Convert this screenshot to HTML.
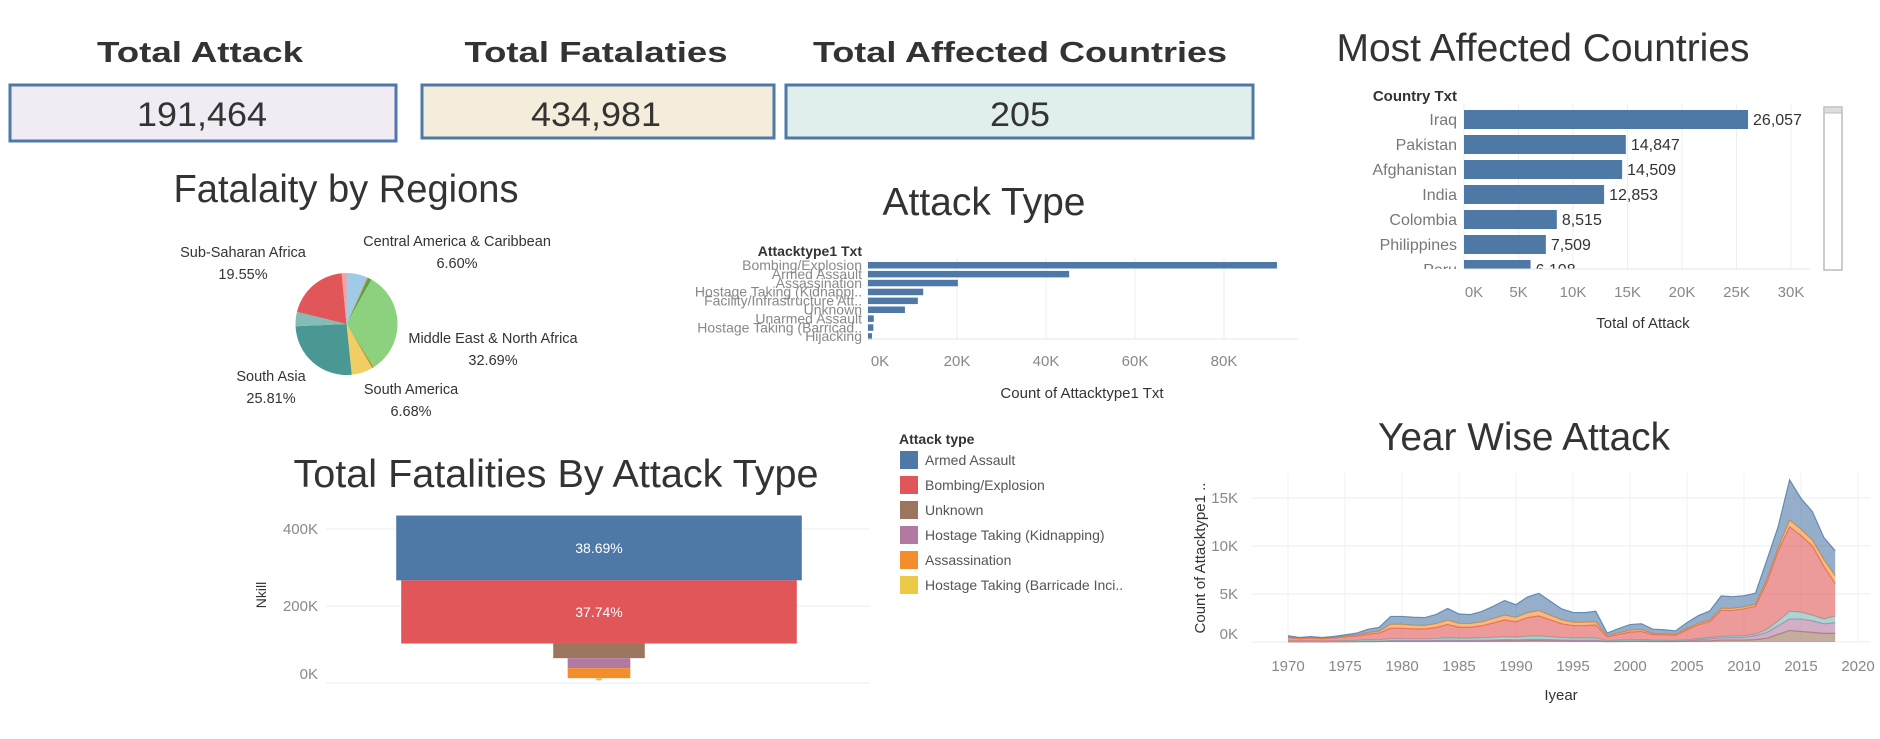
<!DOCTYPE html>
<html><head><meta charset="utf-8">
<style>
html,body{margin:0;padding:0;background:#fff;}
svg{display:block;font-family:"Liberation Sans",sans-serif;}
</style></head>
<body>
<svg id="root" width="1880" height="739" viewBox="0 0 1880 739" xmlns="http://www.w3.org/2000/svg">
  <!-- KPI cards -->
  <g>
    <text x="200" y="62" text-anchor="middle" font-size="29" font-weight="bold" fill="#333" textLength="206" lengthAdjust="spacingAndGlyphs">Total Attack</text>
    <rect x="10" y="85" width="386" height="56" fill="#f1ebf3" stroke="#4e79a7" stroke-width="3"/>
    <text x="202" y="126" text-anchor="middle" font-size="34" fill="#333" textLength="130" lengthAdjust="spacingAndGlyphs">191,464</text>
  </g>
  <g>
    <text x="596" y="62" text-anchor="middle" font-size="29" font-weight="bold" fill="#333" textLength="263" lengthAdjust="spacingAndGlyphs">Total Fatalaties</text>
    <rect x="422" y="85" width="352" height="53" fill="#f5eddc" stroke="#4e79a7" stroke-width="3"/>
    <text x="596" y="126" text-anchor="middle" font-size="34" fill="#333" textLength="130" lengthAdjust="spacingAndGlyphs">434,981</text>
  </g>
  <g>
    <text x="1020" y="62" text-anchor="middle" font-size="29" font-weight="bold" fill="#333" textLength="414" lengthAdjust="spacingAndGlyphs">Total Affected Countries</text>
    <rect x="786" y="85" width="467" height="53" fill="#e0efeb" stroke="#4e79a7" stroke-width="3"/>
    <text x="1020" y="126" text-anchor="middle" font-size="34" fill="#333" textLength="60" lengthAdjust="spacingAndGlyphs">205</text>
  </g>

  <!-- titles -->
  <text x="1543" y="61" text-anchor="middle" font-size="39" fill="#333" textLength="413" lengthAdjust="spacingAndGlyphs">Most Affected Countries</text>
  <text x="346" y="202" text-anchor="middle" font-size="39" fill="#333" textLength="345" lengthAdjust="spacingAndGlyphs">Fatalaity by Regions</text>
  <text x="984" y="215" text-anchor="middle" font-size="39" fill="#333" textLength="203" lengthAdjust="spacingAndGlyphs">Attack Type</text>
  <text x="556" y="487" text-anchor="middle" font-size="39" fill="#333" textLength="525" lengthAdjust="spacingAndGlyphs">Total Fatalities By Attack Type</text>
  <text x="1524" y="450" text-anchor="middle" font-size="39" fill="#333" textLength="292" lengthAdjust="spacingAndGlyphs">Year Wise Attack</text>

  <g id="countries"></g>
  <g id="pie"></g>
  <g id="atype"></g>
  <g id="funnel"></g>
  <g id="legend"></g>
  <g id="years"></g>
</svg>
<script>
const NS="http://www.w3.org/2000/svg";
function mk(parent,tag,attrs,text){const e=document.createElementNS(NS,tag);for(const k in attrs)e.setAttribute(k,attrs[k]);if(text!==undefined)e.textContent=text;parent.appendChild(e);return e;}

// ---------- Most affected countries ----------
const countryNames=["Iraq","Pakistan","Afghanistan","India","Colombia","Philippines","Peru"];
const countryValues=[26057,14847,14509,12853,8515,7509,6108];
const countryTicks=[0,5000,10000,15000,20000,25000,30000];
const countryTickLabels=["0K","5K","10K","15K","20K","25K","30K"];
(function(){
  const g=document.getElementById('countries');
  const x=v=>1464+v*54.5/5000;
  const y=i=>110+i*25;
  const clip=mk(g,'clipPath',{id:'cclip'});mk(clip,'rect',{x:1300,y:104,width:520,height:165});
  countryTicks.forEach((t,i)=>{
    const l=mk(g,'line',{x1:x(t),x2:x(t),y1:104,y2:269,stroke:'#eee','stroke-width':1});
    
    const tl=mk(g,'text',{x:x(t)+(i==0?10:0),y:297,'text-anchor':'middle','font-size':15,fill:'#888'},countryTickLabels[i]);
    
  });
  const cg=mk(g,'g',{'clip-path':'url(#cclip)'});
  countryNames.forEach((n,i)=>{
    const b=mk(cg,'rect',{x:x(0),y:y(i),width:x(countryValues[i])-x(0),height:19,fill:'#4e79a7'});
    
    const vl=mk(cg,'text',{x:x(countryValues[i])+5,y:y(i)+15,'font-size':16,fill:'#333'},countryValues[i].toLocaleString('en-US'));
    
    const nl=mk(cg,'text',{x:1457,y:y(i)+15,'text-anchor':'end','font-size':16,fill:'#777'},n);
    
  });
  const ax=mk(g,'line',{x1:1464,x2:1810,y1:269,y2:269,stroke:'#e6e6e6'});
  
  const hd=mk(g,'text',{x:1457,y:101,'text-anchor':'end','font-size':15,'font-weight':'bold',fill:'#333'},'Country Txt');
  
  const xt=mk(g,'text',{x:1643,y:328,'text-anchor':'middle','font-size':15,fill:'#333'},'Total of Attack');
  
  const sb=mk(g,'rect',{x:1824,y:107,width:18,height:163,fill:'#fff',stroke:'#bbb','stroke-width':1.5});
  
  const sbt=mk(g,'rect',{x:1824,y:107,width:18,height:6,fill:'#ddd',stroke:'#bbb'});
  
})();

// ---------- Pie ----------
const regionNames=["Central America & Caribbean","Australasia & Oceania","Eastern Europe","Middle East & North Africa","North America","South America","South Asia","Southeast Asia","Sub-Saharan Africa","Western Europe"];
const regionPct=[6.60,0.3,1.2,32.69,0.6,6.68,25.81,4.5,19.55,1.5];
const regionColors=["#a0cbe8","#f28e2b","#59a14f","#8cd17d","#b6992d","#f1ce63","#499894","#86bcb6","#e15759","#ff9d9a"];
(function(){
  const g=document.getElementById('pie');
  const cx=346.5,cy=324,r=51;
  const tot=regionPct.reduce((a,b)=>a+b,0);
  let a0=0;
  regionPct.forEach((p,i)=>{
    const a1=a0+p/tot*Math.PI*2;
    const x0=cx+r*Math.sin(a0),y0=cy-r*Math.cos(a0),x1=cx+r*Math.sin(a1),y1=cy-r*Math.cos(a1);
    const large=(a1-a0)>Math.PI?1:0;
    const s=mk(g,'path',{d:`M${cx},${cy}L${x0},${y0}A${r},${r} 0 ${large} 1 ${x1},${y1}Z`,fill:regionColors[i]});
    
    a0=a1;
  });
  const labs=[["Sub-Saharan Africa","19.55%",243,257],["Central America & Caribbean","6.60%",457,246],["Middle East & North Africa","32.69%",493,343],["South Asia","25.81%",271,381],["South America","6.68%",411,394]];
  labs.forEach(l=>{
    const t=mk(g,'text',{x:l[2],y:l[3],'text-anchor':'middle','font-size':14.5,fill:'#333'},l[0]);
    
    const t2=mk(g,'text',{x:l[2],y:l[3]+22,'text-anchor':'middle','font-size':14.5,fill:'#333'},l[1]);
    
  });
})();

// ---------- Attack type bars ----------
const atypeNames=["Bombing/Explosion","Armed Assault","Assassination","Hostage Taking (Kidnappi..","Facility/Infrastructure Att..","Unknown","Unarmed Assault","Hostage Taking (Barricad..","Hijacking"];
const atypeValues=[91900,45200,20200,12400,11200,8300,1300,1200,900];
const atypeTicks=[0,20000,40000,60000,80000];
const atypeTickLabels=["0K","20K","40K","60K","80K"];
(function(){
  const g=document.getElementById('atype');
  const x=v=>868+v*89/20000;
  atypeTicks.forEach((t,i)=>{
    const l=mk(g,'line',{x1:x(t),x2:x(t),y1:258,y2:339,stroke:'#eee'});
    
    const tl=mk(g,'text',{x:x(t)+(i==0?12:0),y:366,'text-anchor':'middle','font-size':15,fill:'#888'},atypeTickLabels[i]);
    
  });
  atypeNames.forEach((n,i)=>{
    const yy=262+i*8.9;
    const b=mk(g,'rect',{x:x(0),y:yy,width:x(atypeValues[i])-x(0),height:6.5,fill:'#4e79a7'});
    
    const t=mk(g,'text',{x:862,y:yy+8,'text-anchor':'end','font-size':14,fill:'#888'},n);
    
  });
  const ax=mk(g,'line',{x1:868,x2:1298,y1:339,y2:339,stroke:'#e6e6e6'});
  
  const hd=mk(g,'text',{x:862,y:256,'text-anchor':'end','font-size':14,'font-weight':'bold',fill:'#333'},'Attacktype1 Txt');
  
  const xt=mk(g,'text',{x:1082,y:398,'text-anchor':'middle','font-size':15,fill:'#333'},'Count of Attacktype1 Txt');
  
})();

// ---------- Funnel ----------
const funnelNames=["Armed Assault","Bombing/Explosion","Unknown","Hostage Taking (Kidnapping)","Assassination","Hostage Taking (Barricade Incident)","Other"];
const funnelValues=[168300,164157,38000,26000,26000,3000,2000];
const funnelLabels=["38.69%","37.74%","","","","",""];
const funnelColors=["#4e79a7","#e15759","#9c755f","#b07aa1","#f28e2b","#edc948","#76b7b2"];
const funnelTicks=[0,200000,400000];
const funnelTickLabels=["0K","200K","400K"];
(function(){
  const g=document.getElementById('funnel');
  const y=v=>683-v*77/200000;
  const w=v=>v*2.41/1000;
  funnelTicks.forEach((t,i)=>{
    const l=mk(g,'line',{x1:326,x2:870,y1:y(t),y2:y(t),stroke:'#eee'});
    
    const tl=mk(g,'text',{x:318,y:y(t)+(i==0?-4:5),'text-anchor':'end','font-size':15,fill:'#888'},funnelTickLabels[i]);
    
  });
  let cum=434981;
  funnelValues.forEach((v,i)=>{
    const top=y(cum),bot=y(cum-v);
    const r=mk(g,'rect',{x:599-w(v)/2,y:top,width:w(v),height:Math.max(bot-top,1),fill:funnelColors[i]});
    
    if(funnelLabels[i]){const t=mk(g,'text',{x:599,y:(top+bot)/2+5,'text-anchor':'middle','font-size':14,fill:'#fff'},funnelLabels[i]);
      }
    cum-=v;
  });
  const yt=mk(g,'text',{x:266,y:595,'text-anchor':'middle','font-size':14,fill:'#333',transform:'rotate(-90 266 595)'},'Nkill');
  
})();

// ---------- Legend ----------
const legendNames=["Armed Assault","Bombing/Explosion","Unknown","Hostage Taking (Kidnapping)","Assassination","Hostage Taking (Barricade Inci.."];
const legendColors=["#4e79a7","#e15759","#9c755f","#b07aa1","#f28e2b","#edc948"];
(function(){
  const g=document.getElementById('legend');
  const h=mk(g,'text',{x:899,y:444,'font-size':14,'font-weight':'bold',fill:'#333'},'Attack type');
  
  legendNames.forEach((n,i)=>{
    const yy=451+i*25;
    const s=mk(g,'rect',{x:900,y:yy,width:18,height:18,fill:legendColors[i]});
    
    const t=mk(g,'text',{x:925,y:yy+14,'font-size':14,fill:'#555'},n);
    
  });
})();

// ---------- Year wise area ----------
const years=[1970,1971,1972,1973,1974,1975,1976,1977,1978,1979,1980,1981,1982,1983,1984,1985,1986,1987,1988,1989,1990,1991,1992,1994,1995,1996,1997,1998,1999,2000,2001,2002,2003,2004,2005,2006,2007,2008,2009,2010,2011,2012,2013,2014,2015,2016,2017,2018];
const sUnknown=[20,15,20,15,20,25,30,40,50,80,80,80,80,90,100,90,90,100,110,130,120,140,150,110,100,100,100,40,50,60,60,50,50,50,70,100,120,200,200,200,250,400,800,1200,1100,1000,900,900];
const sKidnap=[10,10,10,10,15,20,25,30,40,60,60,60,60,70,80,80,80,90,100,120,110,130,140,100,90,90,100,30,40,60,70,50,50,50,80,150,200,250,250,300,400,600,900,1200,1300,1200,1000,1100];
const sFacility=[100,80,90,70,80,100,120,150,150,200,200,180,180,200,250,220,220,250,280,300,280,320,330,250,220,220,220,70,100,120,120,80,70,60,80,100,120,150,150,160,170,300,500,800,700,600,500,700];
const sBombing=[330,250,300,250,300,380,450,600,700,1100,1100,1050,1050,1150,1400,1150,1150,1250,1500,1750,1600,1950,2100,1450,1300,1300,1350,400,600,800,850,600,600,550,1050,1450,1700,2700,2700,2800,2900,4900,7300,8800,8000,7200,5500,3400];
const sAssassination=[40,30,40,30,40,60,80,150,180,400,400,380,350,400,450,400,380,400,450,500,450,500,550,400,350,330,330,100,150,180,180,120,110,100,130,150,150,200,200,200,200,300,300,700,650,600,700,800];
const sArmed=[151,86,108,98,126,155,218,349,406,822,822,836,824,960,1215,975,940,1093,1281,1524,1327,1643,1801,1146,1021,1018,1097,294,455,594,626,433,398,356,607,808,952,1305,1221,1166,1156,2022,2236,4200,3215,2987,2300,2600];
const yTicks=[0,5000,10000,15000];
const yTickLabels=["0K","5K","10K","15K"];
const xTicks=[1970,1975,1980,1985,1990,1995,2000,2005,2010,2015,2020];
(function(){
  const g=document.getElementById('years');
  const x=yr=>1288+(yr-1970)*11.4;
  const y=v=>642-v*48/5000;
  xTicks.forEach(t=>{
    const l=mk(g,'line',{x1:x(t),x2:x(t),y1:473,y2:642,stroke:'#f0f0f0'});
    
    const tl=mk(g,'text',{x:x(t),y:671,'text-anchor':'middle','font-size':15,fill:'#888'},String(t));
    
  });
  yTicks.forEach((t,i)=>{
    const l=mk(g,'line',{x1:1251,x2:1870,y1:y(t),y2:y(t),stroke:'#eee'});
    
    const tl=mk(g,'text',{x:1238,y:y(t)+(i==0?-3:5),'text-anchor':'end','font-size':15,fill:'#888'},yTickLabels[i]);
    
  });
  const series=[sUnknown,sKidnap,sFacility,sBombing,sAssassination,sArmed];
  const cols=["#9c755f","#b07aa1","#76b7b2","#e15759","#f28e2b","#4e79a7"];
  const names=["unknown","kidnapping","facility","bombing","assassination","armed-assault"];
  const base=years.map(()=>0);
  series.forEach((s,k)=>{
    const top=base.map((b,i)=>b+s[i]);
    let d='M'+years.map((yr,i)=>x(yr)+','+y(top[i])).join('L');
    for(let i=years.length-1;i>=0;i--)d+='L'+x(years[i])+','+y(base[i]);
    d+='Z';
    const p=mk(g,'path',{d:d,fill:cols[k],'fill-opacity':0.6,stroke:'none'});
    
    const ln=mk(g,'path',{d:'M'+years.map((yr,i)=>x(yr)+','+y(top[i])).join('L'),fill:'none',stroke:cols[k],'stroke-width':1.2,'stroke-opacity':0.8});
    
    top.forEach((v,i)=>base[i]=v);
  });
  const yt=mk(g,'text',{x:1205,y:558,'text-anchor':'middle','font-size':15,fill:'#333',transform:'rotate(-90 1205 558)'},'Count of Attacktype1 ..');
  
  const xt=mk(g,'text',{x:1561,y:700,'text-anchor':'middle','font-size':15,fill:'#333'},'Iyear');
  
})();
</script>
</body></html>
